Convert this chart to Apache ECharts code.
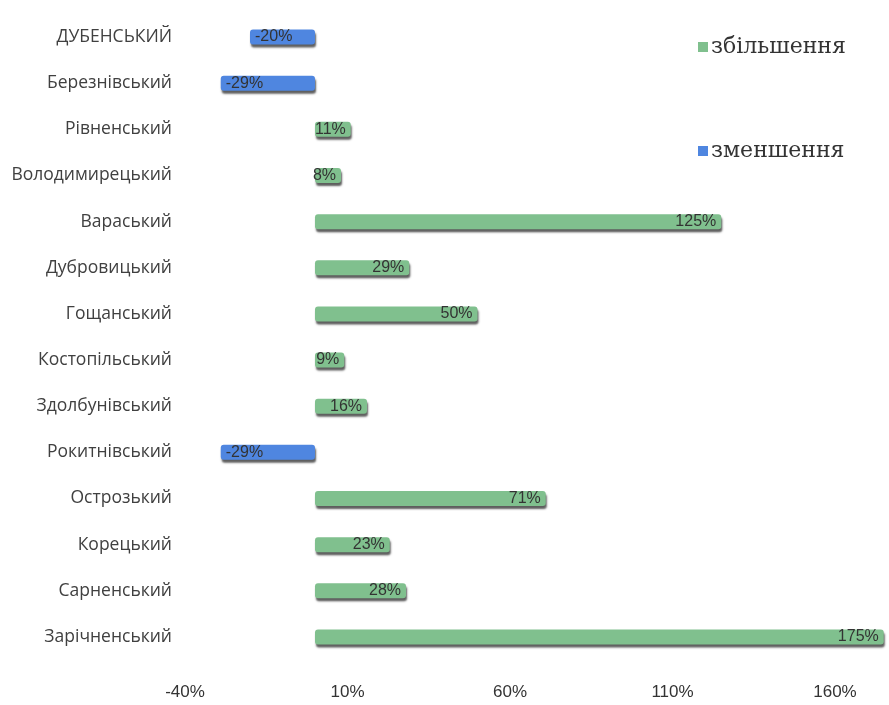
<!DOCTYPE html>
<html><head><meta charset="utf-8">
<script src="https://cdn.jsdelivr.net/npm/echarts@6/dist/echarts.min.js"></script>
<style>html,body{margin:0;padding:0;background:#fff}#c{width:889px;height:705px}</style>
</head><body><div id="c"></div>
<script>
const categories = ['ДУБЕНСЬКИЙ','Березнівський','Рівненський','Володимирецький','Вараський','Дубровицький','Гощанський','Костопільський','Здолбунівський','Рокитнівський','Острозький','Корецький','Сарненський','Зарічненський'];
const values = [-20,-29,11,8,125,29,50,9,16,-29,71,23,28,175];
const seriesNames = ['збільшення','зменшення'];
const xTicks = [-40,10,60,110,160];

const inc = values.map(v => v >= 0 ? v : null);
const dec = values.map(v => v < 0 ? v : null);

const chart = echarts.init(document.getElementById('c'));
const barStyle = (color) => ({
  color: color,
  borderRadius: 3,
  shadowColor: 'rgba(40,40,40,0.75)',
  shadowOffsetY: 3,
  shadowOffsetX: 1,
  shadowBlur: 2
});
const lbl = (pos) => ({
  show: true, position: pos, distance: 5,
  formatter: p => p.value + '%',
  color: '#333', fontSize: 16,
  fontFamily: 'Liberation Sans Narrow, Liberation Sans, sans-serif'
});
chart.setOption({
  animation: false,
  backgroundColor: '#fff',
  grid: { left: 185, right: 2, top: 14, bottom: 45, containLabel: false },
  legend: {
    orient: 'vertical', left: 693, top: 31, itemGap: 82,
    itemWidth: 10, itemHeight: 10, icon: 'rect',
    textStyle: { fontFamily: 'DejaVu Serif, Liberation Serif, serif', fontSize: 22, color: '#333', padding: [0,0,0,-2] },
    data: [seriesNames[0], seriesNames[1]]
  },
  xAxis: {
    type: 'value', min: -40, max: 176, interval: 50,
    splitLine: { show: false }, axisLine: { show: false }, axisTick: { show: false },
    axisLabel: {
      showMaxLabel: false, margin: 24,
      formatter: v => xTicks.includes(v) ? v + '%' : '',
      color: '#333', fontSize: 17,
      fontFamily: 'Liberation Sans Narrow, Liberation Sans, sans-serif'
    }
  },
  yAxis: {
    type: 'category', inverse: true, data: categories,
    axisLine: { show: false }, axisTick: { show: false },
    axisLabel: {
      margin: 13, color: '#404040', fontSize: 17.5,
      fontFamily: 'Open Sans, Noto Sans, sans-serif'
    }
  },
  series: [
    { name: seriesNames[0], type: 'bar', stack: 's', data: inc, barWidth: 15,
      itemStyle: barStyle('#80c08e'), label: lbl('insideRight') },
    { name: seriesNames[1], type: 'bar', stack: 's', data: dec, barWidth: 15,
      itemStyle: barStyle('#4f86e0'), label: lbl('insideLeft') }
  ]
});
</script></body></html>
